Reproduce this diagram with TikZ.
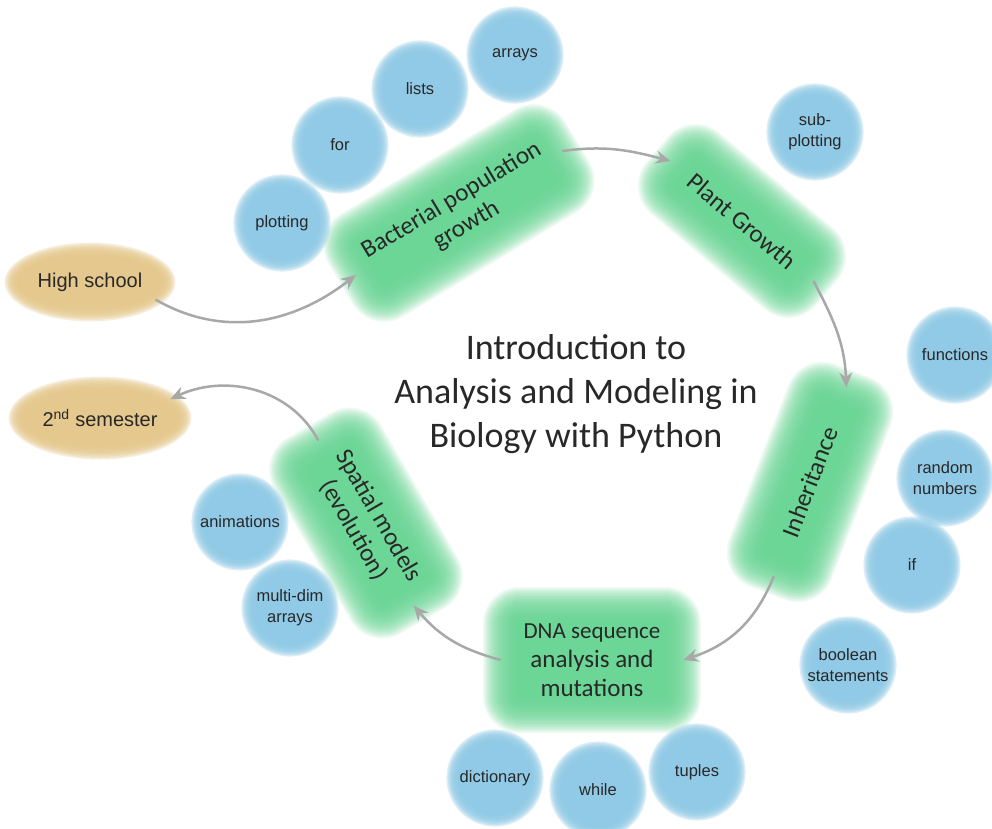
\documentclass[tikz,border=0pt]{standalone}
\usepackage{fontspec}
\setmainfont{Carlito}
\newfontfamily\bubfont{Liberation Sans}
\usetikzlibrary{shapes.geometric,arrows.meta}
\definecolor{gfill}{RGB}{104,214,148}
\definecolor{bfill}{RGB}{143,202,230}
\definecolor{tfill}{RGB}{229,199,138}
\definecolor{agray}{RGB}{168,168,168}
\definecolor{txt}{RGB}{40,40,40}
\tikzset{
  arr/.style={draw=agray, line width=2.5pt, -{Stealth[length=15pt,width=13pt,inset=5pt]}},
  gtext/.style={align=center, text=txt, font=\fontsize{25}{29}\selectfont, inner sep=0pt},
  btext/.style={circle, align=center, text=txt, font=\bubfont\fontsize{16.5}{21}\selectfont, inner sep=0pt, minimum size=86pt},
  otext/.style={ellipse, text=txt, font=\bubfont\fontsize{20}{22}\selectfont, inner sep=0pt},
  glayer/.style={fill=gfill, fill opacity=0.11},
  blayer/.style={fill=bfill, fill opacity=0.3},
  tlayer/.style={fill=tfill, fill opacity=0.28},
}
% green blurred box: name, position, angle, width, height, text
\newcommand\gbox[6]{%
  \begin{scope}[shift={(#2)}, rotate=#3]
  \foreach \k in {-12,...,12}{%
    \pgfmathsetmacro\ww{#4/2+\k*1.5}\pgfmathsetmacro\hh{#5/2+\k*1.5}\pgfmathsetmacro\rr{\k*1.4+20}%
    \fill[glayer, rounded corners=\rr pt] (-\ww,-\hh) rectangle (\ww,\hh);}
  \end{scope}
  \node[gtext, rotate=#3, minimum width=#4pt, minimum height=#5pt] (#1) at (#2) {#6};}
% blue blurred bubble: name, position, text
\newcommand\bub[3]{%
  \foreach \k in {-4,...,4}{%
    \pgfmathsetmacro\ss{43+\k*1.4}%
    \fill[blayer] (#2) circle (\ss pt);}
  \node[btext] (#1) at (#2) {#3};}
% tan blurred oval: name, position, width, height, text
\newcommand\tanoval[5]{%
  \foreach \k in {-4,...,5}{%
    \pgfmathsetmacro\ww{#3/2+\k*1.5}\pgfmathsetmacro\hh{#4/2+\k*1.5}%
    \fill[tlayer] (#2) ellipse ({\ww pt} and {\hh pt});}
  \node[otext, minimum width=#3pt, minimum height=#4pt] (#1) at (#2) {#5};}

\begin{document}
\begin{tikzpicture}[x=1pt,y=1pt]
\fill[white] (0,0) rectangle (992,-828);
\useasboundingbox (0,0) rectangle (992,-828);

% ovals
\tanoval{hs}{90,-282}{156}{64}{High school}
\tanoval{sem}{100,-418}{168}{68}{2\textsuperscript{nd} semester}

% green topic boxes
\gbox{bact}{459,-213}{31}{240}{84}{Bacterial population\\growth}
\gbox{plant}{742,-221}{-40}{186}{70}{Plant Growth}
\gbox{inh}{810,-482}{69}{202}{74}{Inheritance}
\gbox{dna}{592,-660}{0}{182}{110}{\fontsize{23}{29}\selectfont DNA sequence\\analysis and\\mutations}
\gbox{spat}{366,-523}{-60}{190}{88}{Spatial models\\(evolution)}

% bubbles
\bub{plot}{282,-223}{plotting}
\bub{for}{340,-145}{for}
\bub{lists}{420,-89}{lists}
\bub{arrays}{515,-55}{arrays}
\bub{subplot}{815,-132}{sub-\\plotting}
\bub{func}{955,-355}{functions}
\bub{rand}{945,-478}{random\\numbers}
\bub{if}{912,-565}{if}
\bub{bool}{848,-665}{boolean\\statements}
\bub{tuples}{697,-772}{tuples}
\bub{while}{598,-790}{while}
\bub{dict}{495,-778}{dictionary}
\bub{anim}{240,-522}{animations}
\bub{multi}{290,-608}{multi-dim\\arrays}

% title
\node[align=center, text=txt, font=\fontsize{36}{44}\selectfont] (title) at (576,-394) {Introduction to\\Analysis and Modeling in\\Biology with Python};

% arrows
\draw[arr] (hs.-15) to[out=-30,in=218] (bact.west);
\draw[arr] (bact.east) to[out=8,in=165] (plant.west);
\draw[arr] (plant.east) to[out=-62,in=92] (inh.east);
\draw[arr] (inh.west) to[out=-112,in=18] (dna.east);
\draw[arr] (dna.west) to[out=165,in=-50] (spat.east);
\draw[arr] (spat.west) to[out=118,in=25] (sem.15);
\end{tikzpicture}
\end{document}
